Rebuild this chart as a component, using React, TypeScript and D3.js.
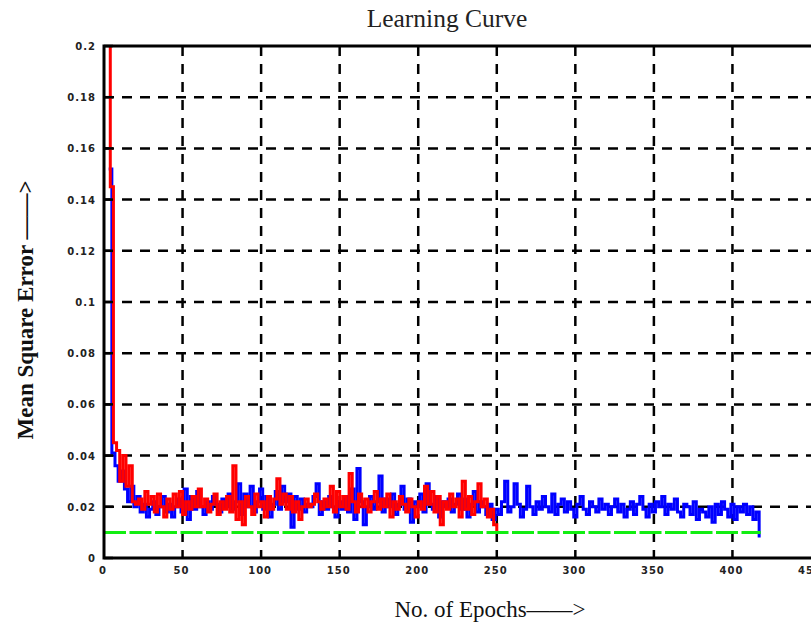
import { useEffect, useRef } from 'react';
import * as d3 from 'd3';

// red run: first point at epoch 2, one value every 2 epochs
const redStart = 2;
const redValues = [
  0.21, 0.145, 0.045, 0.042, 0.03, 0.04, 0.028, 0.036, 0.022, 0.021,
  0.023, 0.019, 0.026, 0.021, 0.024, 0.018, 0.025, 0.02, 0.016, 0.023,
  0.019, 0.025, 0.02, 0.026, 0.017, 0.022, 0.019, 0.024, 0.02, 0.027,
  0.02, 0.023, 0.018, 0.021, 0.025, 0.017, 0.022, 0.019, 0.024, 0.018,
  0.036, 0.015, 0.022, 0.013, 0.024, 0.02, 0.017, 0.025, 0.02, 0.022,
  0.016, 0.024, 0.019, 0.023, 0.031, 0.021, 0.025, 0.019, 0.024, 0.018,
  0.022, 0.015, 0.02, 0.023, 0.02, 0.021, 0.025, 0.022, 0.019, 0.023,
  0.02, 0.028, 0.018, 0.026, 0.02, 0.024, 0.019, 0.033, 0.022, 0.018,
  0.025, 0.02, 0.023, 0.018, 0.022, 0.026, 0.019, 0.023, 0.02, 0.025,
  0.016, 0.022, 0.019, 0.024, 0.021, 0.018, 0.023, 0.02, 0.016, 0.022,
  0.019, 0.028, 0.021, 0.026, 0.018, 0.024, 0.013, 0.022, 0.019, 0.025,
  0.02, 0.023, 0.016, 0.03, 0.019, 0.024, 0.017, 0.022, 0.029, 0.02,
  0.023, 0.016, 0.019, 0.013, 0.01
];

// blue run: first point at epoch 3, one value every 2 epochs
const blueStart = 3;
const blueValues = [
  0.152, 0.041, 0.036, 0.03, 0.034, 0.027, 0.022, 0.028, 0.02, 0.024,
  0.018, 0.021, 0.016, 0.019, 0.022, 0.017, 0.02, 0.024, 0.018, 0.021,
  0.016, 0.02, 0.023, 0.018, 0.027, 0.015, 0.024, 0.019, 0.026, 0.02,
  0.017, 0.022, 0.019, 0.024, 0.021, 0.018, 0.023, 0.02, 0.025, 0.019,
  0.022, 0.029, 0.017, 0.025, 0.02, 0.028, 0.018, 0.022, 0.027, 0.019,
  0.024, 0.016, 0.021, 0.026, 0.019, 0.028, 0.022, 0.025, 0.012, 0.024,
  0.019, 0.023, 0.018, 0.021, 0.02, 0.024, 0.029, 0.017, 0.022, 0.019,
  0.024, 0.02, 0.016, 0.022, 0.019, 0.024, 0.018, 0.027, 0.015, 0.035,
  0.022, 0.013, 0.02, 0.024, 0.019, 0.022, 0.032, 0.018, 0.023, 0.02,
  0.025, 0.017, 0.021, 0.028, 0.019, 0.023, 0.014, 0.022, 0.02, 0.025,
  0.018, 0.029, 0.021, 0.019, 0.024, 0.016, 0.022, 0.02, 0.023, 0.018,
  0.021, 0.025, 0.019, 0.023, 0.016, 0.021, 0.026, 0.018, 0.022, 0.02,
  0.017, 0.021, 0.015, 0.019, 0.017, 0.022, 0.03, 0.018, 0.02, 0.029,
  0.021, 0.016, 0.019, 0.028, 0.02, 0.017, 0.022, 0.019, 0.024, 0.02,
  0.018, 0.025, 0.017, 0.021, 0.023, 0.018, 0.022, 0.019, 0.016, 0.021,
  0.024, 0.019, 0.017, 0.022, 0.02, 0.018, 0.023, 0.019, 0.021, 0.017,
  0.02, 0.023, 0.018, 0.021, 0.016, 0.019, 0.022, 0.017, 0.021, 0.024,
  0.019, 0.016, 0.021, 0.018, 0.022, 0.02, 0.024, 0.017, 0.021, 0.019,
  0.023, 0.018, 0.016, 0.021, 0.02, 0.017, 0.022, 0.015, 0.019, 0.018,
  0.016, 0.02, 0.014, 0.021, 0.017, 0.022, 0.019, 0.016, 0.021, 0.015,
  0.02, 0.018, 0.021, 0.017, 0.02, 0.015, 0.018, 0.008
];

// goal line
const goalValue = 0.01;
const goalEpochs = [0, 418];

const xTicks = [0, 50, 100, 150, 200, 250, 300, 350, 400, 450];
const yTicks = [0, 0.02, 0.04, 0.06, 0.08, 0.1, 0.12, 0.14, 0.16, 0.18, 0.2];

const App = () => {
  const svgRef = useRef<SVGSVGElement | null>(null);

  useEffect(() => {
    if (!svgRef.current) return;
    const svg = d3.select(svgRef.current);
    svg.selectAll('*').remove();

    const left = 104, right = 811, top = 46, bottom = 558;

    const x = d3.scaleLinear().domain([0, 450]).range([left, right]);
    const y = d3.scaleLinear().domain([0, 0.2]).range([bottom, top]);

    svg.append('defs').append('clipPath').attr('id', 'plot-clip')
      .append('rect')
      .attr('x', left).attr('y', top)
      .attr('width', right - left).attr('height', bottom - top);

    // Title
    svg.append('text')
      .attr('x', 447).attr('y', 27)
      .attr('text-anchor', 'middle')
      .attr('font-family', 'Liberation Serif, serif')
      .attr('font-size', '25.5px')
      .attr('fill', '#222')
      .text('Learning Curve');

    // grid
    const grid = svg.append('g');
    grid.selectAll('.hgrid')
      .data(yTicks.filter(t => t > 0 && t < 0.2))
      .enter().append('line')
      .attr('x1', left).attr('x2', right)
      .attr('y1', d => y(d)).attr('y2', d => y(d))
      .attr('stroke', '#000')
      .attr('stroke-width', 2.5)
      .attr('stroke-dasharray', '10,8');
    grid.selectAll('.vgrid')
      .data(xTicks.filter(t => t > 0 && t < 450))
      .enter().append('line')
      .attr('x1', d => x(d)).attr('x2', d => x(d))
      .attr('y1', top).attr('y2', bottom)
      .attr('stroke', '#000')
      .attr('stroke-width', 2.5)
      .attr('stroke-dasharray', '10,8');

    const plot = svg.append('g').attr('clip-path', 'url(#plot-clip)');

    const line = d3.line<[number, number]>()
      .x(d => x(d[0]))
      .y(d => y(d[1]))
      .curve(d3.curveStepAfter);

    const blue: [number, number][] = blueValues.map((v, i) => [blueStart + i * 2, v]);
    const red: [number, number][] = redValues.map((v, i) => [redStart + i * 2, v]);

    plot.append('path')
      .attr('d', line(blue))
      .attr('fill', 'none')
      .attr('stroke', '#0000ff')
      .attr('stroke-width', 3);

    plot.append('path')
      .attr('d', line(red))
      .attr('fill', 'none')
      .attr('stroke', '#ff0000')
      .attr('stroke-width', 3);

    // goal line
    plot.append('line')
      .attr('x1', x(goalEpochs[0])).attr('x2', x(goalEpochs[1]))
      .attr('y1', y(goalValue)).attr('y2', y(goalValue))
      .attr('stroke', '#11ee11')
      .attr('stroke-width', 3)
      .attr('stroke-dasharray', '22,3.5');

    // frame
    svg.append('path')
      .attr('d', `M${right},${top}H${left}V${bottom}H${right}`)
      .attr('fill', 'none')
      .attr('stroke', '#000')
      .attr('stroke-width', 3);

    // y ticks
    const yAxis = svg.append('g');
    yAxis.selectAll('.ytick')
      .data(yTicks)
      .enter().append('line')
      .attr('x1', left).attr('x2', left + 9)
      .attr('y1', d => y(d)).attr('y2', d => y(d))
      .attr('stroke', '#000')
      .attr('stroke-width', 2.5);
    yAxis.selectAll('.ylabel')
      .data(yTicks)
      .enter().append('text')
      .attr('x', 96)
      .attr('y', d => y(d) + 4)
      .attr('text-anchor', 'end')
      .attr('font-family', 'DejaVu Sans, sans-serif')
      .attr('font-weight', 'bold')
      .attr('font-size', '10px')
      .attr('letter-spacing', '1px')
      .attr('fill', '#222')
      .text(d => d3.format('')(d));

    // x labels
    svg.append('g').selectAll('.xlabel')
      .data(xTicks)
      .enter().append('text')
      .attr('x', d => x(d) - 1)
      .attr('y', 574)
      .attr('text-anchor', 'middle')
      .attr('font-family', 'DejaVu Sans, sans-serif')
      .attr('font-weight', 'bold')
      .attr('font-size', '10px')
      .attr('letter-spacing', '1px')
      .attr('fill', '#222')
      .text(d => d);

    // axis titles
    svg.append('text')
      .attr('x', 490).attr('y', 617)
      .attr('text-anchor', 'middle')
      .attr('font-family', 'Liberation Serif, serif')
      .attr('font-size', '23px')
      .attr('fill', '#111')
      .text('No. of Epochs\u2014\u2014>');

    svg.append('text')
      .attr('transform', 'rotate(-90)')
      .attr('x', -310).attr('y', 33)
      .attr('text-anchor', 'middle')
      .attr('font-family', 'Liberation Serif, serif')
      .attr('font-weight', 'bold')
      .attr('font-size', '23px')
      .attr('fill', '#111')
      .text('Mean Square Error \u2014\u2014>');
  }, []);

  return (
    <div style={{ position: 'absolute', left: 0, top: 0, width: 811, height: 625, background: '#fff' }}>
      <svg ref={svgRef} width={811} height={625}></svg>
    </div>
  );
};

export default App;
